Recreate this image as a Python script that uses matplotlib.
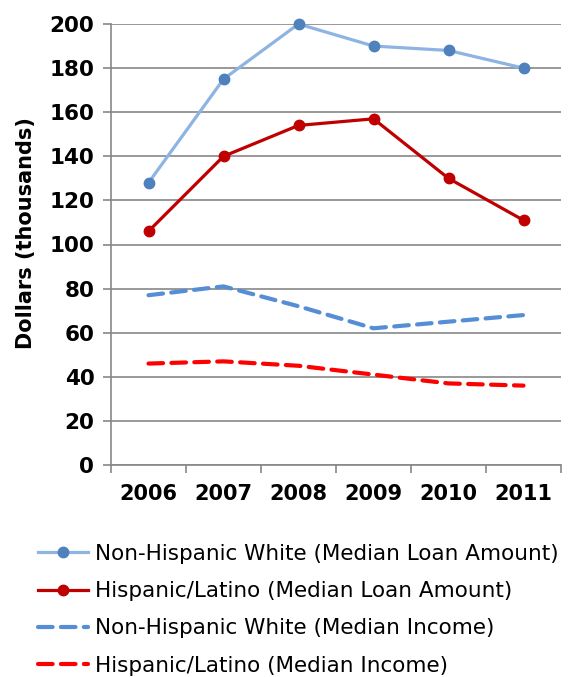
import matplotlib
matplotlib.use("Agg")
import matplotlib.pyplot as plt
from matplotlib.ticker import FixedLocator, NullFormatter

years = ["2006", "2007", "2008", "2009", "2010", "2011"]
nhw_loan = [128, 175, 200, 190, 188, 180]
hl_loan = [106, 140, 154, 157, 130, 111]
nhw_income = [77, 81, 72, 62, 65, 68]
hl_income = [46, 47, 45, 41, 37, 36]
y_ticks = [0, 20, 40, 60, 80, 100, 120, 140, 160, 180, 200]

plt.rcParams["font.family"] = ["DejaVu Sans"]

W, H = 571, 677
fig = plt.figure(figsize=(W / 100, H / 100), dpi=100)
ax = fig.add_axes([111 / W, 1 - 465 / H, 450 / W, 441 / H])

x = list(range(len(years)))
grid_c = "#878787"

l1, = ax.plot(x, nhw_loan, color="#8DB4E2", lw=2.3, marker="o", ms=7.5,
              mfc="#4F81BD", mec="#4F81BD", clip_on=False, zorder=5,
              label="Non-Hispanic White (Median Loan Amount)")
l2, = ax.plot(x, hl_loan, color="#C00000", lw=2.3, marker="o", ms=7.5,
              mfc="#C00000", mec="#C00000", clip_on=False, zorder=5,
              label="Hispanic/Latino (Median Loan Amount)")
l3, = ax.plot(x, nhw_income, color="#558ED5", lw=3, ls=(0, (3.5, 2)),
              dash_capstyle="round", zorder=4,
              label="Non-Hispanic White (Median Income)")
l4, = ax.plot(x, hl_income, color="#FF0000", lw=3, ls=(0, (3.5, 2)),
              dash_capstyle="round", zorder=4,
              label="Hispanic/Latino (Median Income)")

ax.set_xlim(-0.5, len(years) - 0.5)
ax.set_ylim(0, 200)
ax.yaxis.set_major_locator(FixedLocator(y_ticks))
ax.grid(axis="y", color=grid_c, lw=1.2)
ax.set_axisbelow(True)

ax.set_xticks(x)
ax.set_xticklabels(years, fontsize=15, fontweight="bold")
ax.tick_params(axis="x", which="major", length=0, pad=14)
ax.xaxis.set_minor_locator(FixedLocator([i - 0.5 for i in range(len(years) + 1)]))
ax.xaxis.set_minor_formatter(NullFormatter())
ax.tick_params(axis="x", which="minor", length=6, width=1.2, color=grid_c, direction="out")
ax.tick_params(axis="y", length=6, width=1.2, color=grid_c, labelsize=15.5, pad=6)
for lab in ax.get_yticklabels():
    lab.set_fontweight("bold")

for s in ["top", "right"]:
    ax.spines[s].set_visible(False)
for s in ["left", "bottom"]:
    ax.spines[s].set_color(grid_c)
    ax.spines[s].set_linewidth(1.2)

ax.set_ylabel("Dollars (thousands)", fontsize=15, fontweight="bold")
ax.yaxis.set_label_coords(-0.167, 0.526)

fig.legend(handles=[l1, l2, l3, l4], loc="upper left",
           bbox_to_anchor=(38 / W, 1 - 544 / H), frameon=False,
           fontsize=15.5, handlelength=2.33, handletextpad=0.33,
           labelspacing=0.8, borderpad=0, borderaxespad=0)

fig.savefig("out.png", dpi=100)
